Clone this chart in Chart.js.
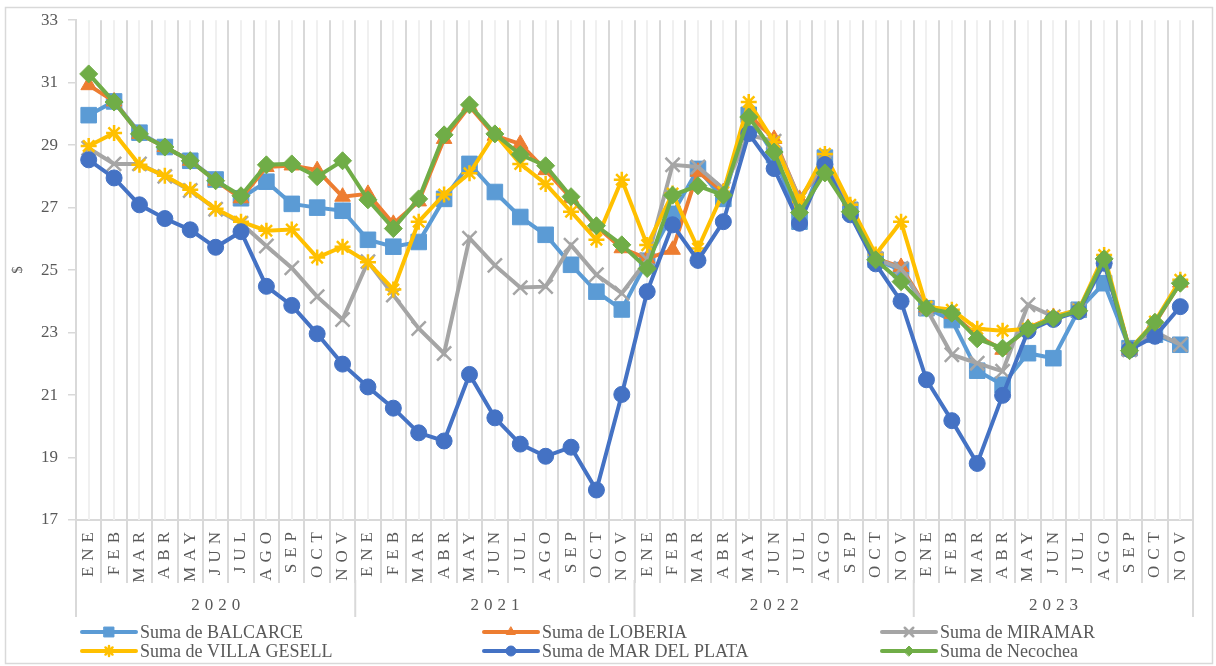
<!DOCTYPE html>
<html lang="es">
<head>
<meta charset="UTF-8">
<title>Suma por localidad 2020-2023</title>
<script src="https://cdn.jsdelivr.net/npm/chart.js"></script>
<style>
  html, body { margin: 0; padding: 0; background: #fff; }
  canvas { display: block; }
</style>
</head>
<body>
<canvas id="chart" width="1216" height="666"></canvas>
<script>
const months = ['ENE', 'FEB', 'MAR', 'ABR', 'MAY', 'JUN', 'JUL', 'AGO', 'SEP', 'OCT', 'NOV'];
const years = ['2020', '2021', '2022', '2023'];
const yMin = 17, yMax = 33, yStep = 2;

const balcarce = [
  29.96, 30.40, 29.40, 28.94, 28.50, 27.90, 27.30, 27.83, 27.12, 27.00, 26.90,
  25.97, 25.75, 25.90, 27.28, 28.40, 27.50, 26.70, 26.13, 25.17, 24.31, 23.74,
  25.30, 26.80, 28.24, 27.28, 29.97, 28.68, 26.55, 28.60, 26.93, 25.33, 25.00,
  23.78, 23.40, 21.78, 21.33, 22.34, 22.18, 23.73, 24.58, 22.50, 22.93, 22.61
];
const loberia = [
  30.92, 30.40, 29.36, 28.94, 28.50, 27.86, 27.30, 28.30, 28.35, 28.20, 27.35,
  27.44, 26.48, 27.20, 29.20, 30.25, 29.30, 29.04, 28.20, 27.30, 26.40, 25.70,
  25.37, 25.65, 28.15, 27.50, 29.97, 29.20, 27.28, 28.40, 27.00, 25.37, 25.10,
  23.80, 23.60, 22.90, 22.45, 23.15, 23.50, 23.70, 25.35, 22.45, 23.30, 24.60
];
const miramar = [
  28.90, 28.40, 28.40, 28.00, 27.55, 26.95, 26.50, 25.77, 25.07, 24.15, 23.42,
  25.27, 24.20, 23.13, 22.33, 26.02, 25.15, 24.44, 24.47, 25.80, 24.85, 24.26,
  25.33, 28.37, 28.30, 27.60, 29.32, 29.13, 27.28, 28.46, 26.93, 25.37, 25.05,
  23.77, 22.29, 22.02, 21.76, 23.89, 23.51, 23.73, 25.27, 22.45, 23.03, 22.61
];
const villaGesell = [
  28.97, 29.39, 28.37, 28.02, 27.57, 26.96, 26.55, 26.26, 26.30, 25.40, 25.75,
  25.25, 24.38, 26.55, 27.42, 28.10, 29.36, 28.40, 27.76, 26.87, 25.97, 27.89,
  25.80, 27.45, 25.69, 27.50, 30.38, 29.10, 27.19, 28.72, 27.09, 25.50, 26.55,
  23.83, 23.73, 23.12, 23.06, 23.12, 23.51, 23.73, 25.48, 22.45, 23.35, 24.69
];
const marDelPlata = [
  28.53, 27.95, 27.09, 26.65, 26.29, 25.73, 26.23, 24.48, 23.87, 22.96, 21.99,
  21.26, 20.58, 19.79, 19.53, 21.66, 20.27, 19.43, 19.04, 19.33, 17.96, 21.02,
  24.31, 26.45, 25.31, 26.55, 29.37, 28.25, 26.50, 28.38, 26.77, 25.20, 24.00,
  21.49, 20.18, 18.81, 20.99, 23.05, 23.42, 23.67, 25.22, 22.45, 22.88, 23.83
];
const necochea = [
  31.28, 30.38, 29.36, 28.94, 28.50, 27.86, 27.38, 28.37, 28.40, 27.99, 28.50,
  27.25, 26.33, 27.28, 29.33, 30.29, 29.36, 28.70, 28.34, 27.35, 26.42, 25.81,
  25.05, 27.40, 27.70, 27.40, 29.90, 28.78, 26.84, 28.11, 26.87, 25.33, 24.63,
  23.78, 23.62, 22.80, 22.50, 23.12, 23.46, 23.70, 25.36, 22.42, 23.33, 24.58
];

const labels = years.flatMap(() => months);

const SERIF = '"Liberation Serif", "Times New Roman", serif';
const TEXT = '#595959';
const GRID = '#d9d9d9';

// category scale that draws its tick labels letter-spaced, like the Excel original
class SpacedCategoryScale extends Chart.CategoryScale {
  drawLabels(area) {
    const ctx = this.ctx;
    ctx.save();
    ctx.letterSpacing = '6px';
    super.drawLabels(area);
    ctx.restore();
  }
}
SpacedCategoryScale.id = 'spacedCategory';
SpacedCategoryScale.defaults = Chart.CategoryScale.defaults;
Chart.register(SpacedCategoryScale);

function series(label, data, color, style, radius, order) {
  const thin = style === 'crossRot' || style === 'star';
  return {
    label, data, order,
    borderColor: color,
    backgroundColor: color,
    borderWidth: 4,
    tension: 0,
    pointStyle: style,
    pointRadius: radius,
    pointHoverRadius: radius,
    pointBackgroundColor: color,
    pointBorderColor: color,
    pointBorderWidth: thin ? 2.5 : 1
  };
}

const datasets = [
  series('Suma de BALCARCE', balcarce, '#5B9BD5', 'rect', 11, 5),
  series('Suma de LOBERIA', loberia, '#ED7D31', 'triangle', 9, 4),
  series('Suma de MIRAMAR', miramar, '#A5A5A5', 'crossRot', 10, 3),
  series('Suma de VILLA GESELL', villaGesell, '#FFC000', 'star', 8, 2),
  series('Suma de MAR DEL PLATA', marDelPlata, '#4472C4', 'circle', 8, 1),
  series('Suma de Necochea', necochea, '#70AD47', 'rectRot', 9, 0)
];

const decor = {
  id: 'decor',
  beforeDraw(chart) {
    const ctx = chart.ctx;
    ctx.save();
    ctx.fillStyle = '#fff';
    ctx.fillRect(0, 0, chart.width, chart.height);
    ctx.strokeStyle = GRID;
    ctx.lineWidth = 1.5;
    ctx.strokeRect(5.5, 7.5, 1207, 656);
    ctx.restore();
  },
  beforeDatasetsDraw(chart) {
    // light lines through each category centre
    const { ctx, chartArea, scales: { x } } = chart;
    ctx.save();
    ctx.strokeStyle = '#f0f0f0';
    ctx.lineWidth = 2;
    ctx.beginPath();
    for (let i = 0; i < labels.length; i++) {
      const px = Math.round(x.getPixelForValue(i));
      ctx.moveTo(px, chartArea.top);
      ctx.lineTo(px, chartArea.bottom);
    }
    ctx.stroke();
    ctx.restore();
  },
  afterDraw(chart) {
    const { ctx, scales: { x } } = chart;
    const half = (x.getPixelForValue(1) - x.getPixelForValue(0)) / 2;
    const n = months.length;

    // year group separators and labels
    ctx.save();
    ctx.strokeStyle = GRID;
    ctx.lineWidth = 2;
    ctx.beginPath();
    for (let k = 0; k <= years.length; k++) {
      const px = k < years.length
        ? x.getPixelForValue(k * n) - half
        : x.getPixelForValue(labels.length - 1) + half;
      ctx.moveTo(px, x.top + 60);
      ctx.lineTo(px, x.top + 97);
    }
    ctx.stroke();

    ctx.fillStyle = TEXT;
    ctx.font = '17px ' + SERIF;
    ctx.letterSpacing = '5px';
    ctx.textAlign = 'center';
    ctx.textBaseline = 'middle';
    years.forEach((yr, k) => {
      const mid = (x.getPixelForValue(k * n) + x.getPixelForValue(k * n + n - 1)) / 2;
      ctx.fillText(yr, mid + 2.5, x.top + 86);
    });
    ctx.restore();

    // legend, 3 columns x 2 rows
    const cols = [82, 484, 882];
    const rows = [632, 651];
    ctx.save();
    ctx.font = '18px ' + SERIF;
    ctx.textBaseline = 'middle';
    ctx.textAlign = 'left';
    chart.data.datasets.forEach((ds, i) => {
      const lx = cols[i % 3];
      const ly = rows[Math.floor(i / 3)];
      ctx.strokeStyle = ds.borderColor;
      ctx.lineWidth = 4;
      ctx.lineCap = 'round';
      ctx.beginPath();
      ctx.moveTo(lx, ly);
      ctx.lineTo(lx + 54, ly);
      ctx.stroke();
      ctx.fillStyle = ds.backgroundColor;
      ctx.lineWidth = ds.pointBorderWidth;
      Chart.helpers.drawPoint(ctx, {
        pointStyle: ds.pointStyle,
        radius: Math.round(ds.pointRadius * 0.6),
        rotation: 0,
        borderWidth: ds.pointBorderWidth
      }, lx + 27, ly);
      ctx.fillStyle = TEXT;
      ctx.fillText(ds.label, lx + 58, ly + 1);
    });
    ctx.restore();
  }
};

new Chart(document.getElementById('chart'), {
  type: 'line',
  data: { labels, datasets },
  plugins: [decor],
  options: {
    responsive: false,
    animation: false,
    layout: { padding: { left: 0, right: 23, top: 18, bottom: 70 } },
    plugins: {
      legend: { display: false },
      tooltip: { enabled: false }
    },
    scales: {
      x: {
        type: 'spacedCategory',
        offset: true,
        grid: {
          offset: true,
          color: GRID,
          lineWidth: 2,
          drawTicks: true,
          tickLength: 63
        },
        border: { color: GRID, width: 2 },
        ticks: {
          autoSkip: false,
          maxRotation: 90,
          minRotation: 90,
          padding: -57,
          color: TEXT,
          font: { family: SERIF, size: 17 }
        },
        afterFit(scale) { scale.height = 76; }
      },
      y: {
        min: yMin,
        max: yMax,
        grid: {
          drawOnChartArea: false,
          drawTicks: true,
          tickLength: 8,
          tickColor: GRID,
          lineWidth: 1.5
        },
        border: { color: GRID, width: 2 },
        ticks: {
          stepSize: yStep,
          padding: 10,
          color: TEXT,
          font: { family: SERIF, size: 17 }
        },
        title: {
          display: true,
          text: '$',
          color: TEXT,
          font: { family: SERIF, size: 15 },
          padding: { top: 9, bottom: 0 }
        },
        afterFit(scale) { scale.width = 76; }
      }
    }
  }
});
</script>
</body>
</html>
